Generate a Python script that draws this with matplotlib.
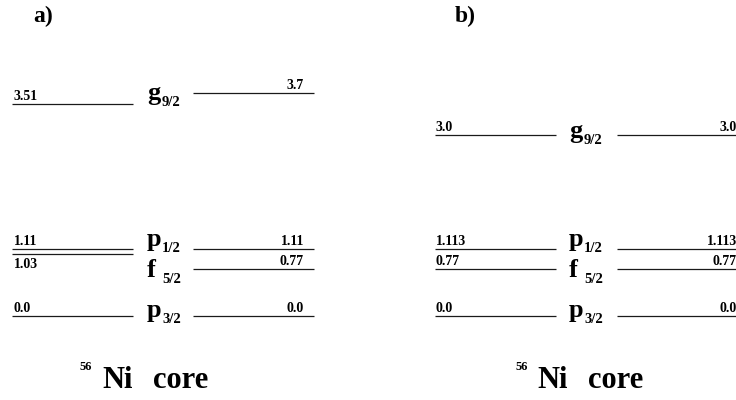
import matplotlib
matplotlib.use("Agg")
import matplotlib.pyplot as plt
from matplotlib.transforms import ScaledTranslation

plt.rcParams['font.family'] = ['Liberation Serif', 'DejaVu Serif']
plt.rcParams['font.weight'] = 'bold'

# Single-particle energies (MeV) for the 56Ni-core model spaces
panel_names = ["a)", "b)"]
orbitals = ["p", "f", "p", "g"]
orbital_j = ["3/2", "5/2", "1/2", "9/2"]

a_left_energies = [0.0, 1.03, 1.11, 3.51]
a_left_labels = ["0.0", "1.03", "1.11", "3.51"]
a_right_energies = [0.0, 0.77, 1.11, 3.7]
a_right_labels = ["0.0", "0.77", "1.11", "3.7"]

b_left_energies = [0.0, 0.77, 1.113, 3.0]
b_left_labels = ["0.0", "0.77", "1.113", "3.0"]
b_right_energies = [0.0, 0.77, 1.113, 3.0]
b_right_labels = ["0.0", "0.77", "1.113", "3.0"]

W, H = 736, 400
Y0 = 316.0      # pixel row of zero energy
SCALE = 60.4    # pixels per MeV

fig = plt.figure(figsize=(W / 100, H / 100), dpi=100)
ax = fig.add_axes([0, 0, 1, 1])
ax.set_xlim(0, W)
ax.set_ylim(-(H - Y0) / SCALE, Y0 / SCALE)
ax.axis('off')


def yp(row):
    """Convert a pixel row (from the top) to energy units."""
    return (Y0 - row) / SCALE


def shifted(dy_px):
    """Data transform shifted vertically by a number of pixels."""
    return ax.transData + ScaledTranslation(0, dy_px / 100, fig.dpi_scale_trans)


line_kw = dict(color='#1a1a1a', lw=0.9, solid_capstyle='butt')
val_kw = dict(fontsize=10, fontweight='bold', va='baseline')

panels = [
    dict(name=panel_names[0], name_x=33,
         left=(12, 133), right=(193, 314),
         left_e=a_left_energies, left_l=a_left_labels,
         right_e=a_right_energies, right_l=a_right_labels,
         lab_x=147, right_text_x=304, left_text_dx=2,
         orb_rows=[317, 277, 246, 100], core_x=80),
    dict(name=panel_names[1], name_x=455,
         left=(435, 556), right=(617, 740),
         left_e=b_left_energies, left_l=b_left_labels,
         right_e=b_right_energies, right_l=b_right_labels,
         lab_x=569, right_text_x=737, left_text_dx=1,
         orb_rows=[317, 277, 246, 138], core_x=515),
]

for p in panels:
    ax.text(p['name_x'], yp(22), p['name'], fontsize=17, fontweight='bold',
            va='baseline', ha='left')

    # left column of levels
    for e, lab in zip(p['left_e'], p['left_l']):
        ax.plot(p['left'], [e, e], **line_kw)
        dy = -14 if lab == "1.03" else 4
        ax.text(p['left'][0] + p['left_text_dx'], e, lab, ha='left',
                transform=shifted(dy), **val_kw)

    # right column of levels
    for e, lab in zip(p['right_e'], p['right_l']):
        ax.plot(p['right'], [e, e], **line_kw)
        ax.text(p['right_text_x'], e, lab, ha='right',
                transform=shifted(4), **val_kw)

    # orbital labels
    for orb, j, row in zip(orbitals, orbital_j, p['orb_rows']):
        ax.text(p['lab_x'], yp(row), orb, fontsize=19, fontweight='bold',
                va='baseline', ha='left')
        ax.text(p['lab_x'] + 15, yp(row + 6), j, fontsize=10.5,
                fontweight='bold', va='baseline', ha='left')

    # core label
    cx = p['core_x']
    ax.text(cx, yp(370), "56", fontsize=9, fontweight='bold',
            va='baseline', ha='left')
    ax.text(cx + 22, yp(388), "Ni", fontsize=22, fontweight='bold',
            va='baseline', ha='left')
    ax.text(cx + 73, yp(388), "core", fontsize=22, fontweight='bold',
            va='baseline', ha='left')

fig.savefig("out.png", dpi=100)
